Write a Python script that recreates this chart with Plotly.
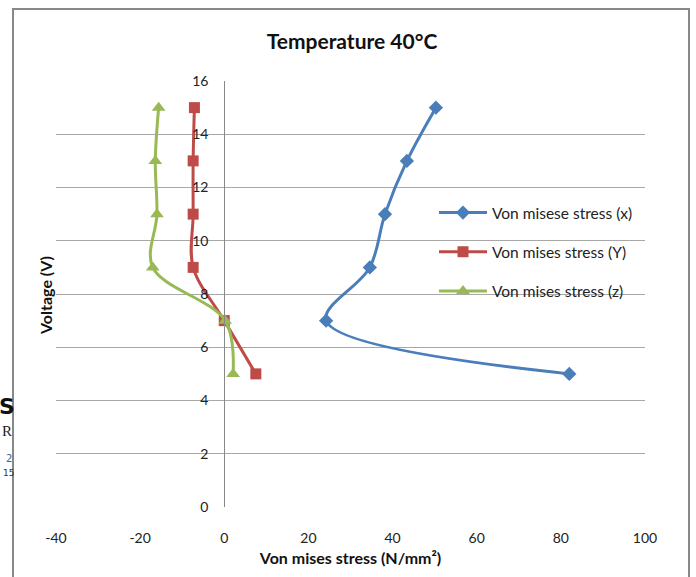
import plotly.graph_objects as go

voltage = [5, 7, 9, 11, 13, 15]
stress_x = [82, 24.2, 34.6, 38.2, 43.4, 50.3]
stress_y = [7.5, 0, -7.4, -7.4, -7.4, -7.1]
stress_z = [2.1, 0.2, -17, -16, -16.4, -15.6]

series = [
    ("Von misese stress (x)", stress_x, "#4a7ebb", "diamond", 11),
    ("Von mises stress (Y)", stress_y, "#be4b48", "square", 11),
    ("Von mises stress (z)", stress_z, "#98b954", "triangle-up", 12),
]

x_ticks = [-40, -20, 0, 20, 40, 60, 80, 100]
x_ticktext = ["-40", "-20", "0", "20", "40", "60", "80", "100"]
y_ticks = [0, 2, 4, 6, 8, 10, 12, 14, 16]

FONT = "Lato, 'Open Sans', sans-serif"

fig = go.Figure()
for i, (name, xs, color, sym, size) in enumerate(series):
    fig.add_trace(go.Scatter(
        x=xs, y=voltage, name=name, mode="lines+markers",
        line=dict(color=color, width=3, shape="spline", smoothing=1),
        marker=dict(symbol=sym, size=size, color=color),
        legendgroup=f"g{i}",
    ))

W, H = 696, 577
L, R, T, B = 56, 51, 81, 70
pw, ph = W - L - R, H - T - B

def px_x(p):
    return (p - L) / pw

def px_y(p):
    return (H - B - p) / ph

fig.update_layout(
    width=W, height=H,
    margin=dict(l=L, r=R, t=T, b=B),
    paper_bgcolor="white", plot_bgcolor="white",
    font=dict(family=FONT, size=14, color="#222"),
    title=dict(text="<b>Temperature 40°C</b>", x=352 / W, xanchor="center",
               y=1 - 42 / H, yanchor="middle",
               font=dict(family=FONT, size=21, color="#111")),
    showlegend=True,
    legend=dict(x=px_x(434), y=px_y(196), xanchor="left", yanchor="top",
                bgcolor="rgba(0,0,0,0)", tracegroupgap=16,
                font=dict(family=FONT, size=15.5, color="#222"),
                itemwidth=48),
    xaxis=dict(range=[-40, 100], tickvals=x_ticks, ticktext=x_ticktext,
               showgrid=False, zeroline=False, showline=False, ticks="",
               ticklabelstandoff=21,
               tickfont=dict(family=FONT, size=14, color="#222"),
               title=dict(text="<b>Von mises stress (N/mm²)</b>", standoff=7,
                          font=dict(family=FONT, size=16, color="#111"))),
    yaxis=dict(range=[0, 16], tickvals=y_ticks, showgrid=True,
               gridcolor="#a8a8a8", gridwidth=1, zeroline=False,
               showline=True, linecolor="#888888", linewidth=1, ticks="",
               anchor="free", position=40 / 140, ticklabelstandoff=13,
               tickfont=dict(family=FONT, size=14, color="#222")),
)

# y title placed at left edge of plot
fig.add_annotation(text="<b>Voltage (V)</b>", xref="paper", yref="paper",
                   x=px_x(45), y=px_y(296), xanchor="center", yanchor="middle",
                   textangle=-90, showarrow=False,
                   font=dict(family=FONT, size=16, color="#111"))

# chart border
fig.add_shape(type="rect", xref="paper", yref="paper",
              x0=px_x(13), x1=px_x(689), y0=px_y(600), y1=px_y(9),
              line=dict(color="#888888", width=2), layer="below")

# background page artefacts on the left edge
artefacts = [
    ("<b>S</b>", 7, 406, "DejaVu Sans", 22, "#111"),
    ("R", 7, 431, "Liberation Serif", 15, "#222"),
    ("2", 9, 458, "DejaVu Sans", 10, "#4060a0"),
    ("15", 8, 473, "DejaVu Sans", 9, "#333"),
]
for txt, ax, ay, fam, sz, col in artefacts:
    fig.add_annotation(text=txt, xref="paper", yref="paper", x=px_x(ax), y=px_y(ay),
                       xanchor="center", yanchor="middle", showarrow=False,
                       font=dict(family=fam, size=sz, color=col))

fig.write_html("out.html")
